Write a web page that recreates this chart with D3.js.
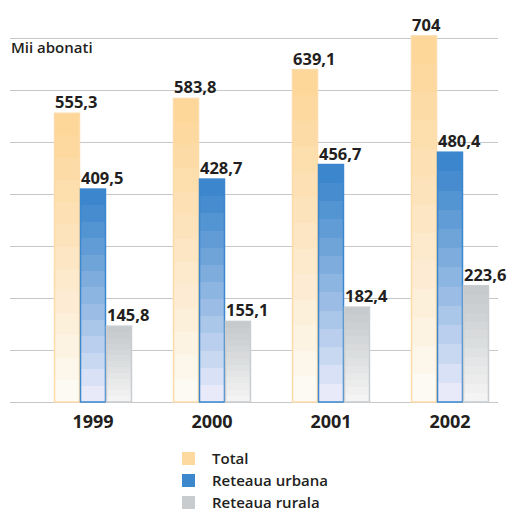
<!DOCTYPE html>
<html>
<head>
<meta charset="utf-8">
<script src="https://cdn.jsdelivr.net/npm/d3@7"></script>
<style>
  body { margin: 0; background: #fff; }
  svg text { font-family: "Open Sans", "DejaVu Sans", sans-serif; fill: #231f20; }
</style>
</head>
<body>
<svg id="chart" width="511" height="512"></svg>
<script>
// chart data
let years = ['1999', '2000', '2001', '2002'];
let total = [555.3, 583.8, 639.1, 704];
let urbana = [409.5, 428.7, 456.7, 480.4];
let rurala = [145.8, 155.1, 182.4, 223.6];
let seriesNames = ['Total', 'Reteaua urbana', 'Reteaua rurala'];
let gridTicks = [0, 100, 200, 300, 400, 500, 600, 700];

// colours for each series: top of bar, bottom of bar, border
let palette = [
    {top: '#fdd699', bottom: '#fdf9f3', stroke: '#fddcaa', legend: '#fdd9a0'},
    {top: '#3b86cc', bottom: '#e8eaf9', stroke: '#3b88cf', legend: '#3d87cc'},
    {top: '#c6cacd', bottom: '#f4f4f4', stroke: '#c9cdd0', legend: '#c8cccf'},
];

let svg = d3.select('#chart');
let margin = {left: 10, right: 13, baseline: 402};

let x = d3.scaleBand()
    .domain(years)
    .range([33.5, 509.5])
    .paddingInner(0.345)
    .paddingOuter(0.1725);

let xSub = d3.scaleBand()
    .domain(d3.range(3))
    .range([0, x.bandwidth()]);

let y = d3.scaleLinear()
    .domain([0, 700])
    .range([margin.baseline, 38]);

// stepped gradients
let defs = svg.append('defs');
let steps = 13;
palette.forEach((p, i) => {
    let grad = defs.append('linearGradient')
        .attr('id', 'grad' + i)
        .attr('x1', 0).attr('y1', 0).attr('x2', 0).attr('y2', 1);
    let interp = d3.interpolateRgb(p.top, p.bottom);
    for (let s = 0; s < steps; s++) {
        let c = interp(Math.pow(s / (steps - 1), 1.1));
        grad.append('stop').attr('offset', s / steps).attr('stop-color', c);
        grad.append('stop').attr('offset', (s + 1) / steps).attr('stop-color', c);
    }
});

// gridlines
svg.append('g').selectAll('line')
    .data(gridTicks)
    .enter().append('line')
    .attr('x1', margin.left)
    .attr('x2', 511 - margin.right)
    .attr('y1', d => Math.round(y(d)) + 0.5)
    .attr('y2', d => Math.round(y(d)) + 0.5)
    .attr('stroke', '#c8c8c8')
    .attr('stroke-width', 1);

svg.append('text')
    .attr('x', 11)
    .attr('y', 53)
    .attr('font-size', 15)
    .attr('font-weight', 600)
    .text('Mii abonati');

// bars
let rows = years.map((yr, i) => ({year: yr, values: [total[i], urbana[i], rurala[i]]}));

let groups = svg.append('g').selectAll('g.group')
    .data(rows)
    .enter().append('g')
    .attr('class', 'group')
    .attr('transform', d => 'translate(' + x(d.year) + ',0)');

let bars = groups.selectAll('g.bar')
    .data(d => d.values.map((v, k) => ({k: k, v: v})))
    .enter().append('g')
    .attr('class', 'bar');

bars.append('rect')
    .attr('x', d => xSub(d.k) + 0.5)
    .attr('y', d => y(d.v))
    .attr('width', xSub.bandwidth() - 1)
    .attr('height', d => y(0) - y(d.v))
    .attr('fill', d => 'url(#grad' + d.k + ')')
    .attr('stroke', d => palette[d.k].stroke)
    .attr('stroke-width', 1.5);

bars.append('text')
    .attr('x', d => xSub(d.k) + 1)
    .attr('y', d => y(d.v) - 5)
    .attr('font-size', 16.5)
    .attr('font-weight', 700)
    .text(d => d3.format('')(d.v).replace('.', ','));

// year labels
svg.append('g').selectAll('text')
    .data(years)
    .enter().append('text')
    .attr('x', d => x(d) + x.bandwidth() / 2)
    .attr('y', 428)
    .attr('text-anchor', 'middle')
    .attr('font-size', 18)
    .attr('font-weight', 700)
    .text(d => d);

// legend
let legend = svg.append('g').selectAll('g')
    .data(seriesNames)
    .enter().append('g')
    .attr('transform', (d, i) => 'translate(182,' + (452 + i * 22) + ')');

legend.append('rect')
    .attr('width', 13)
    .attr('height', 13)
    .attr('fill', (d, i) => palette[i].legend);

legend.append('text')
    .attr('x', 30)
    .attr('y', 11.5)
    .attr('font-size', 15)
    .attr('font-weight', 600)
    .text(d => d);
</script>
</body>
</html>
